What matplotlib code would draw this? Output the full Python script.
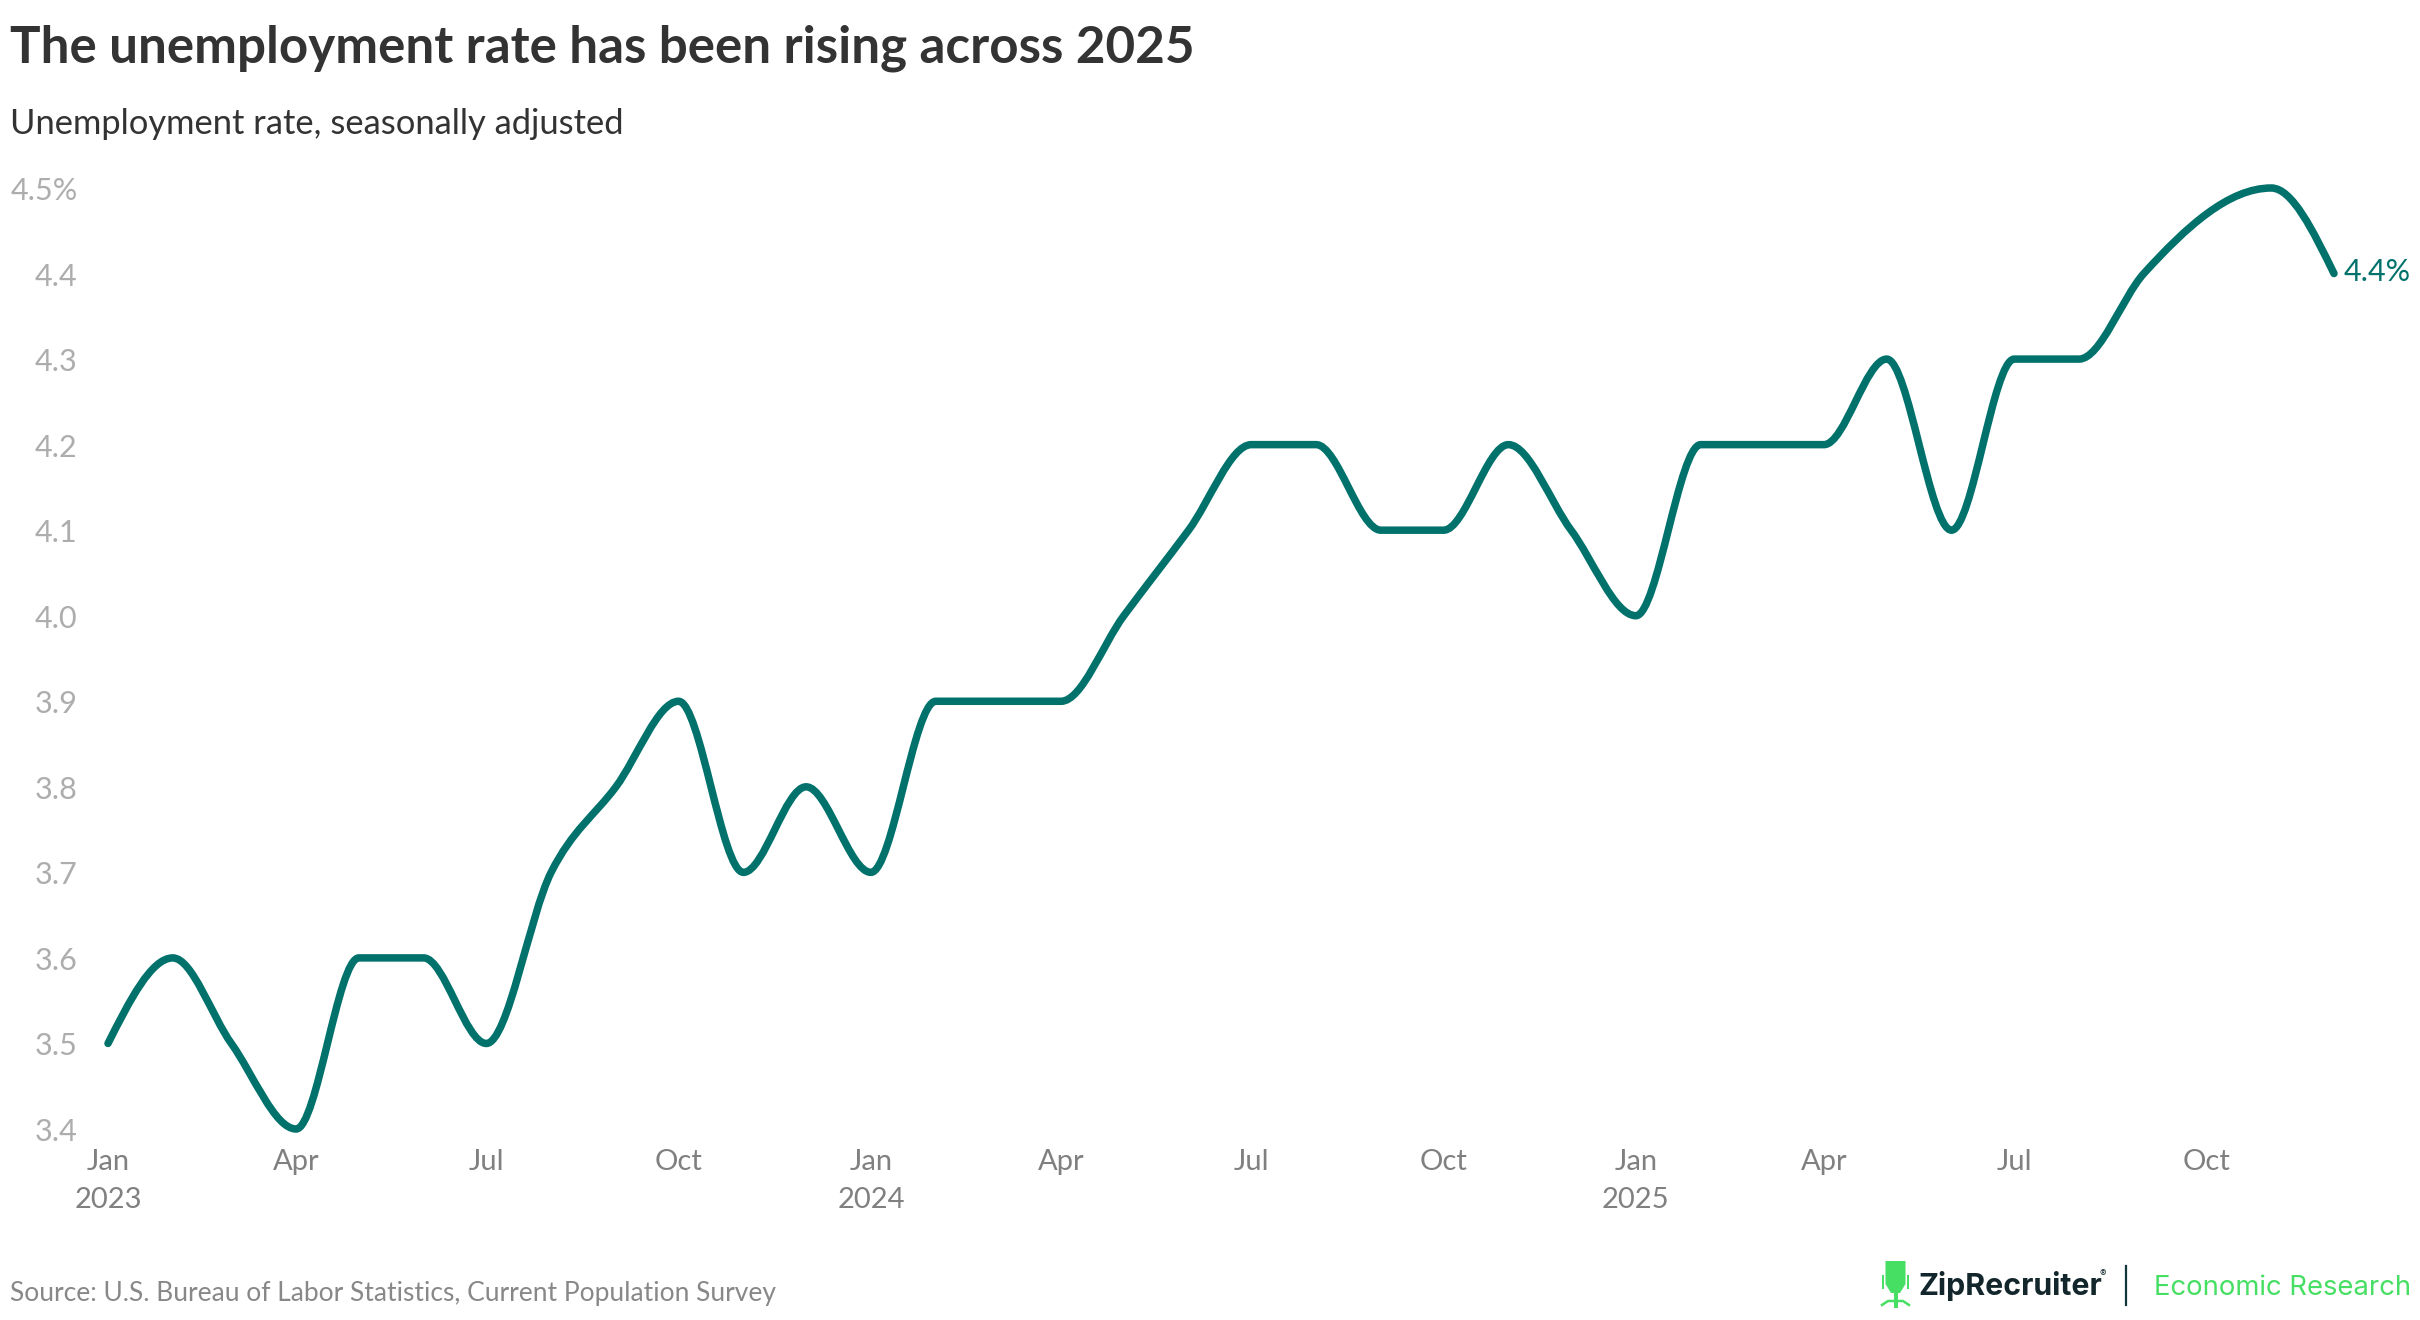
import numpy as np
import matplotlib
matplotlib.use('Agg')
import matplotlib.pyplot as plt
import matplotlib.dates as mdates
from matplotlib.path import Path
from matplotlib.patches import PathPatch, Polygon, Rectangle
from matplotlib.transforms import Affine2D
from datetime import date

# --- Data ---
# monthly readings, Oct 2025 has no reading so it is left out
months = [date(2023, m, 1) for m in range(1, 13)] + \
         [date(2024, m, 1) for m in range(1, 13)] + \
         [date(2025, m, 1) for m in range(1, 10)] + \
         [date(2025, 11, 1), date(2025, 12, 1)]
rates = [3.5, 3.6, 3.5, 3.4, 3.6, 3.6, 3.5, 3.7, 3.8, 3.9, 3.7, 3.8,
         3.7, 3.9, 3.9, 3.9, 4.0, 4.1, 4.2, 4.2, 4.1, 4.1, 4.2, 4.1,
         4.0, 4.2, 4.2, 4.2, 4.3, 4.1, 4.3, 4.3, 4.4,
         4.5, 4.4]

y_ticks = [3.4, 3.5, 3.6, 3.7, 3.8, 3.9, 4.0, 4.1, 4.2, 4.3, 4.4, 4.5]
y_labels = ['3.4', '3.5', '3.6', '3.7', '3.8', '3.9', '4.0', '4.1', '4.2', '4.3', '4.4', '4.5%']
x_ticks = [date(y, m, 1) for y in (2023, 2024, 2025) for m in (1, 4, 7, 10)]
x_labels = ['Jan\n2023', 'Apr', 'Jul', 'Oct',
            'Jan\n2024', 'Apr', 'Jul', 'Oct',
            'Jan\n2025', 'Apr', 'Jul', 'Oct']

TEAL = '#00716b'
GREEN = '#47df63'
W, H = 2420, 1320
plt.rcParams['font.family'] = ['Lato', 'DejaVu Sans']


def monotone_path(xs, ys):
    # same curve as d3 curveMonotoneX
    xs = np.asarray(xs, dtype=float)
    ys = np.asarray(ys, dtype=float)
    h = np.diff(xs)
    s = np.diff(ys) / h
    t = np.zeros(len(xs))
    for i in range(1, len(xs) - 1):
        p = (s[i - 1] * h[i] + s[i] * h[i - 1]) / (h[i - 1] + h[i])
        t[i] = (np.sign(s[i - 1]) + np.sign(s[i])) * min(abs(s[i - 1]), abs(s[i]), 0.5 * abs(p))
    t[0] = (3 * s[0] - t[1]) / 2
    t[-1] = (3 * s[-1] - t[-2]) / 2
    verts = [(xs[0], ys[0])]
    codes = [Path.MOVETO]
    for i in range(len(h)):
        d = h[i] / 3
        verts += [(xs[i] + d, ys[i] + d * t[i]), (xs[i + 1] - d, ys[i + 1] - d * t[i + 1]), (xs[i + 1], ys[i + 1])]
        codes += [Path.CURVE4] * 3
    return Path(verts, codes)


fig = plt.figure(figsize=(W / 200, H / 200), dpi=200, facecolor='white')

# axes box runs from Jan 2023 to Dec 2025 and 3.4 to 4.5
ax = fig.add_axes([108 / W, 1 - 1129 / H, (2334 - 108) / W, (1129 - 188) / H])
ax.set_xlim(mdates.date2num(months[0]), mdates.date2num(months[-1]))
ax.set_ylim(3.4, 4.5)
for sp in ax.spines.values():
    sp.set_visible(False)

ax.add_patch(PathPatch(monotone_path(mdates.date2num(months), rates), fill=False, edgecolor=TEAL,
                       linewidth=2.7, capstyle='round', joinstyle='round', clip_on=False))

ax.set_yticks(y_ticks)
ax.set_yticklabels(y_labels, fontsize=11, color='#adadad', va='center')
ax.tick_params(axis='y', length=0, pad=11)
for lab in ax.get_yticklabels():
    lab.set_transform(lab.get_transform() + Affine2D().translate(0, -3))
ax.set_xticks(mdates.date2num(x_ticks))
ax.set_xticklabels(x_labels, fontsize=10.5, color='#808080', linespacing=1.58)
ax.tick_params(axis='x', length=0, pad=7.3)

ax.annotate('4.4%', (mdates.date2num(months[-1]), rates[-1]), xytext=(10, -7), textcoords='offset pixels',
            color=TEAL, fontsize=11, ha='left', va='baseline', annotation_clip=False)

# overlay in pixel coordinates for the header, footer and logo
ov = fig.add_axes([0, 0, 1, 1], facecolor='none')
ov.set_xlim(0, W)
ov.set_ylim(H, 0)
ov.axis('off')

ov.text(10, 63, 'The unemployment rate has been rising across 2025', fontsize=18.4, fontweight='bold',
        color='#333333', va='baseline')
ov.text(10, 134, 'Unemployment rate, seasonally adjusted', fontsize=12.45, color='#333333', va='baseline')
ov.text(10, 1301, 'Source: U.S. Bureau of Labor Statistics, Current Population Survey', fontsize=9.5,
        color='#888888', va='baseline')

# chair logo
ov.add_patch(Polygon([(1885.5, 1261), (1905.5, 1261), (1905.5, 1284), (1900, 1293), (1891, 1293), (1885.5, 1284)],
                     closed=True, facecolor=GREEN, edgecolor='none'))
ov.add_patch(Rectangle((1881.5, 1275), 2, 14, facecolor=GREEN, edgecolor='none'))
ov.add_patch(Rectangle((1907, 1275), 2, 14, facecolor=GREEN, edgecolor='none'))
ov.add_patch(Rectangle((1893.5, 1293), 4, 15, facecolor=GREEN, edgecolor='none'))
ov.plot([1882, 1888, 1903, 1909], [1305, 1301, 1301, 1305], color=GREEN, linewidth=0.9)
ov.text(1918, 1295, 'ZipRecruiter', family='Inter', fontsize=10.9, fontweight='bold', color='#12262b', va='baseline')
ov.text(2100, 1277, '®', family='Inter', fontsize=3.5, color='#12262b', va='baseline')
ov.plot([2125.5, 2125.5], [1266, 1305], color='#12343b', linewidth=0.8)
ov.text(2153.5, 1295, 'Economic Research', family='Inter', fontsize=9.9, color=GREEN, va='baseline')

fig.savefig('out.png', dpi=200)
